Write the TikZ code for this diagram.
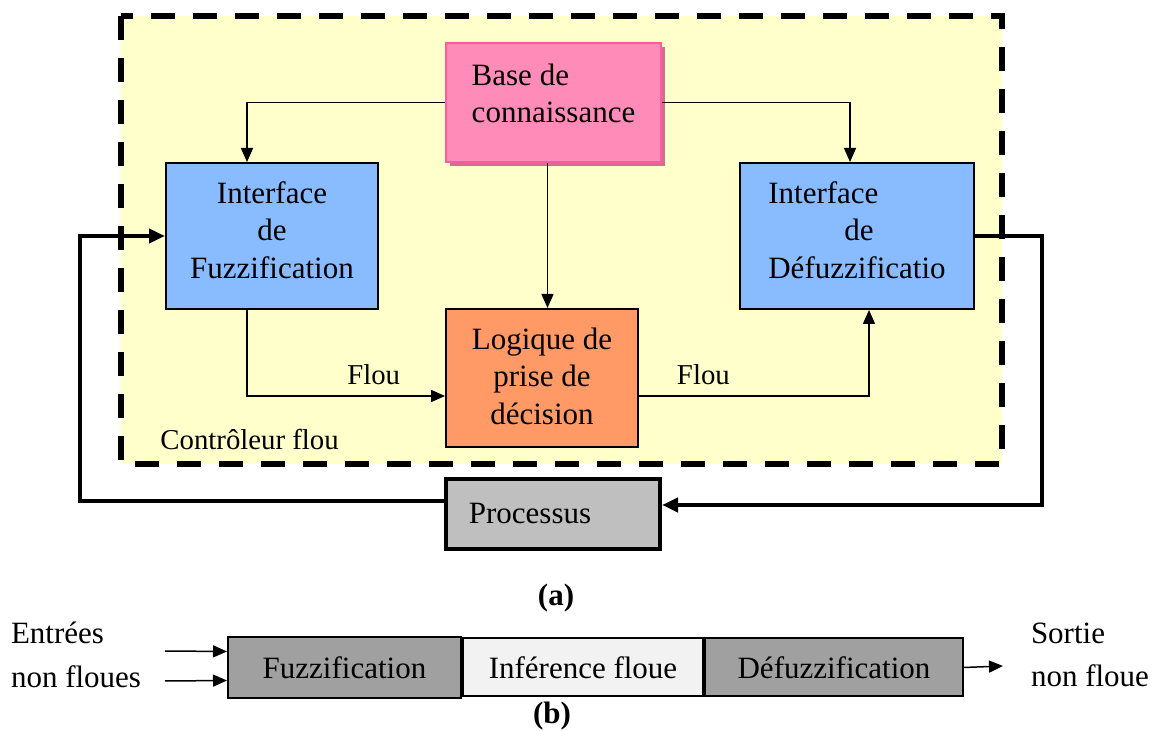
\documentclass[tikz,border=0pt]{standalone}
\usepackage{fontspec}
\setmainfont{Liberation Serif}
\usetikzlibrary{arrows.meta,positioning,shadows}
\definecolor{ctrlyellow}{HTML}{FFFFCC}
\definecolor{ifaceblue}{HTML}{88BBFF}
\definecolor{basepink}{HTML}{FF8BB8}
\definecolor{basepinkline}{HTML}{FF5C9A}
\definecolor{basepinkshadow}{HTML}{D07090}
\definecolor{logicorange}{HTML}{FF9966}
\definecolor{procgray}{HTML}{BFBFBF}
\definecolor{stepgray}{HTML}{A0A0A0}
\definecolor{stepwhite}{HTML}{F2F2F2}
\tikzset{
  blk/.style = {draw=black, line width=1pt, align=center, inner sep=0pt,
    font=\fontsize{15.5}{18.7}\selectfont},
  iface/.style = {blk, fill=ifaceblue, minimum height=73pt, text depth=6pt},% interface box
  stepbox/.style = {blk, minimum height=29pt},% box of part (b)
  lbl/.style = {inner sep=0pt, font=\fontsize{14.4}{17}\selectfont},
  conn/.style = {line width=0.75pt, -{Triangle[length=7pt,width=6pt]}},
  fb/.style = {line width=2.2pt, -{Triangle[length=8pt,width=7pt]}}% feedback loop
}

\begin{document}
\begin{tikzpicture}[x=0.5pt,y=-0.5pt]
\useasboundingbox (0,0) rectangle (1152,731);
% fuzzy controller frame
\draw[fill=ctrlyellow, line width=3pt, dash pattern=on 12pt off 9pt] (121,16) rectangle (1002,464);
\node[lbl, anchor=west] (ctrl) at (160,440) {Contrôleur flou};
% blocks
\node[blk, fill=basepink, draw=basepinkline, align=left, minimum width=107.5pt, minimum height=59.5pt,
  text depth=9pt, drop shadow={shadow xshift=2pt, shadow yshift=-2pt, fill=basepinkshadow, opacity=1}]
  (base) at (553.5,102.5) {Base de\\connaissance};
\node[iface, minimum width=106pt] (fuzz) at (272,236) {Interface\\de\\Fuzzification};
\node[iface, minimum width=117pt, align=left] (defuzz) at (857,236) {Interface\\\hspace*{38pt}de\\Défuzzificatio};
\node[blk, fill=logicorange, minimum width=96pt, minimum height=69pt, text depth=2pt] (logic) at (542,378) {Logique de\\prise de\\décision};
\node[blk, fill=procgray, line width=2pt, minimum width=107pt, minimum height=35pt] (proc) at (553,514) {Processus\hspace*{23pt}};
% connectors
\draw[conn] (base.west) -| ([xshift=-12.5pt]fuzz.north);
\draw[conn] (base.east) -| ([xshift=-3.5pt]defuzz.north);
\draw[conn] ([xshift=-3pt]base.south) -- ([xshift=-3pt]base.south |- logic.north);
\draw[conn] ([xshift=-12.5pt]fuzz.south) |- node[lbl, pos=0.82, above=5pt] {Flou} ([yshift=-9pt]logic.west);
\draw[conn] ([yshift=-9pt]logic.east) -| node[lbl, pos=0.14, above=5pt] {Flou} ([xshift=6pt]defuzz.south);
% feedback loop
\coordinate (fbr) at (1042,505);
\coordinate (fbl) at (80,501);
\draw[fb] (defuzz.east) -| (fbr) -- (fbr -| proc.east);
\draw[fb] (proc.west |- fbl) -- (fbl) |- (fuzz.west);
\node[font=\fontsize{15.5}{18.7}\selectfont\bfseries] (capa) at (556,598) {(a)};
% part (b)
\node[stepbox, fill=stepgray, minimum width=116.5pt, minimum height=30.5pt] (bfuzz) at (344.5,667.5) {Fuzzification};
\node[stepbox, fill=stepwhite, minimum width=120pt, right=0pt of bfuzz] (binf) {Inférence floue};
\node[stepbox, fill=stepgray, minimum width=129pt, right=0pt of binf] (bdefuzz) {Défuzzification};
\coordinate (inA) at (165,651);
\coordinate (inB) at (165,681);
\coordinate (outA) at (1003,666);
\draw[conn] (inA) -- ([yshift=8pt]bfuzz.west);
\draw[conn] (inB) -- ([yshift=-6.5pt]bfuzz.west);
\draw[conn] (bdefuzz.east) -- (outA);
\node[blk, draw=none, align=left, anchor=west] (inlbl) at (10,655) {Entrées\\[3pt]non floues};
\node[blk, draw=none, align=left, anchor=west] (outlbl) at (1030,655) {Sortie\\[3pt]non floue};
\node[font=\fontsize{15.5}{18.7}\selectfont\bfseries] (capb) at (552,716) {(b)};
\end{tikzpicture}
\end{document}
